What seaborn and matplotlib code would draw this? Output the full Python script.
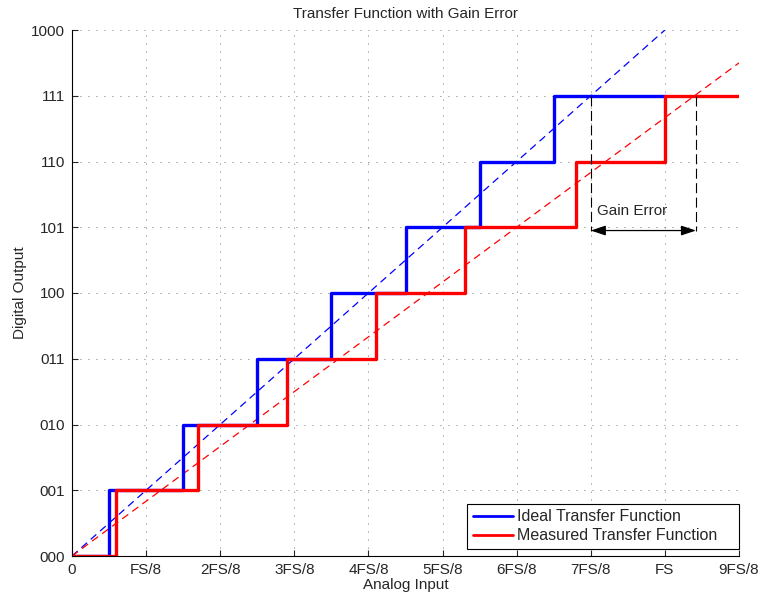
import matplotlib
matplotlib.use("Agg")
import matplotlib.pyplot as plt
import seaborn as sns
import pandas as pd

# ---- data ----
ideal_x = [0, 0.5, 1.5, 2.5, 3.5, 4.5, 5.5, 6.5, 8.0]
ideal_y = [0, 1, 2, 3, 4, 5, 6, 7, 7]
meas_x = [0, 0.6, 1.7, 2.9, 4.1, 5.3, 6.8, 8.0, 9.0]
meas_y = [0, 1, 2, 3, 4, 5, 6, 7, 7]
ideal_line_x = [0, 8]
ideal_line_y = [0, 8]
meas_line_x = [0, 9]
meas_line_y = [0, 7.5]
gain_x = [7.0, 8.42]
gain_y_top = 7.0
gain_y_arrow = 4.95
x_ticklabels = ["0", "FS/8", "2FS/8", "3FS/8", "4FS/8", "5FS/8", "6FS/8", "7FS/8", "FS", "9FS/8"]
y_ticklabels = ["000", "001", "010", "011", "100", "101", "110", "111", "1000"]

sns.set_style("white")
plt.rcParams["font.family"] = ["Liberation Sans", "DejaVu Sans"]

FS = 11

fig = plt.figure(figsize=(7.63, 6.06), dpi=100)
ax = fig.add_axes([72 / 763, 1 - 556 / 606, (739 - 72) / 763, (556 - 30) / 606])

df_ideal = pd.DataFrame({"x": ideal_x, "y": ideal_y})
df_meas = pd.DataFrame({"x": meas_x, "y": meas_y})

# dashed reference lines
sns.lineplot(x=ideal_line_x, y=ideal_line_y, ax=ax, color="blue", lw=0.9,
             linestyle=(0, (6, 4)), sort=False, estimator=None)
sns.lineplot(x=meas_line_x, y=meas_line_y, ax=ax, color="red", lw=0.9,
             linestyle=(0, (6, 4)), sort=False, estimator=None)

# step functions
sns.lineplot(data=df_ideal, x="x", y="y", ax=ax, color="blue", lw=2.4,
             drawstyle="steps-post", sort=False, estimator=None,
             label="Ideal Transfer Function")
sns.lineplot(data=df_meas, x="x", y="y", ax=ax, color="red", lw=2.4,
             drawstyle="steps-post", sort=False, estimator=None,
             label="Measured Transfer Function")

# gain error annotation
for gx in gain_x:
    ax.plot([gx, gx], [gain_y_top, gain_y_arrow], color="black", lw=0.8,
            linestyle=(0, (9, 4)))
ax.annotate("", xy=(gain_x[0], gain_y_arrow), xytext=(gain_x[1], gain_y_arrow),
            arrowprops=dict(arrowstyle="<|-|>,head_length=0.9,head_width=0.3",
                            color="black", lw=0.9, shrinkA=0, shrinkB=0))
ax.text(7.08, 5.24, "Gain Error", fontsize=FS, va="center", ha="left")

ax.set_xlim(0, 9)
ax.set_ylim(0, 8)
ax.set_xticks(range(10))
ax.set_xticklabels(x_ticklabels, fontsize=FS)
ax.set_yticks(range(9))
ax.set_yticklabels(y_ticklabels, fontsize=FS)
ax.tick_params(direction="in", length=4, width=0.8, pad=5, bottom=True, left=True)
ax.grid(True, linestyle=(0, (1, 8.6)), color="0.25", lw=0.6)
for s in ["top", "right"]:
    ax.spines[s].set_visible(False)
for s in ["left", "bottom"]:
    ax.spines[s].set_color("black")
    ax.spines[s].set_linewidth(0.8)

ax.set_title("Transfer Function with Gain Error", fontsize=FS, pad=9)
ax.set_xlabel("Analog Input", fontsize=FS, labelpad=1)
ax.set_ylabel("Digital Output", fontsize=FS, labelpad=3)

ax_w, ax_h = 739 - 72, 556 - 30
leg = ax.legend(loc="lower left",
                bbox_to_anchor=((467 - 72) / ax_w, 7 / ax_h, (739 - 467) / ax_w, 44 / ax_h),
                mode="expand", fontsize=11.5,
                fancybox=False, framealpha=1, edgecolor="black", borderaxespad=0,
                handlelength=2.5, handletextpad=0.3, labelspacing=0.25,
                borderpad=0.35)
leg.get_frame().set_linewidth(0.8)
for h in leg.get_lines():
    h.set_linewidth(2.0)

fig.savefig("out.png", dpi=100)
